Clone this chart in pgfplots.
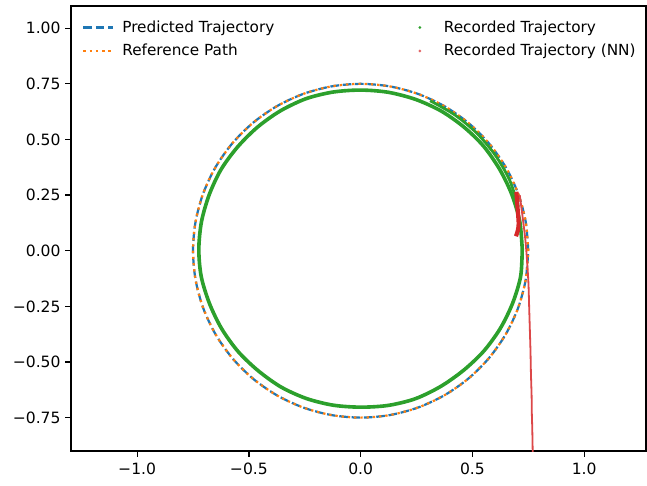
\documentclass[border=0pt]{standalone}
\usepackage{fontspec}
\setmainfont{DejaVu Sans}
\usepackage{pgfplots}
\pgfplotsset{compat=1.18}
\definecolor{c0}{HTML}{1F77B4}
\definecolor{c1}{HTML}{FF7F0E}
\definecolor{c2}{HTML}{2CA02C}
\definecolor{c3}{HTML}{D62728}

% reference circle, r = 0.75
\pgfplotstableread{
x y
0.75 0
0.7386 0.1302
0.7048 0.2565
0.6495 0.375
0.5745 0.4821
0.4821 0.5745
0.375 0.6495
0.2565 0.7048
0.1302 0.7386
0 0.75
-0.1302 0.7386
-0.2565 0.7048
-0.375 0.6495
-0.4821 0.5745
-0.5745 0.4821
-0.6495 0.375
-0.7048 0.2565
-0.7386 0.1302
-0.75 0
-0.7386 -0.1302
-0.7048 -0.2565
-0.6495 -0.375
-0.5745 -0.4821
-0.4821 -0.5745
-0.375 -0.6495
-0.2565 -0.7048
-0.1302 -0.7386
0 -0.75
0.1302 -0.7386
0.2565 -0.7048
0.375 -0.6495
0.4821 -0.5745
0.5745 -0.4821
0.6495 -0.375
0.7048 -0.2565
0.7386 -0.1302
0.75 0
}\refpath

% recorded trajectory
\pgfplotstableread{
x y
0.723 0.008
0.712 0.132
0.676 0.254
0.622 0.366
0.550 0.470
0.462 0.556
0.360 0.628
0.246 0.680
0.124 0.712
0.000 0.722
-0.124 0.713
-0.245 0.683
-0.360 0.628
-0.462 0.555
-0.550 0.467
-0.624 0.366
-0.677 0.253
-0.712 0.131
-0.724 0.006
-0.713 -0.117
-0.676 -0.238
-0.622 -0.350
-0.549 -0.452
-0.460 -0.538
-0.357 -0.612
-0.243 -0.664
-0.123 -0.694
0.000 -0.703
0.124 -0.695
0.245 -0.665
0.358 -0.610
0.461 -0.537
0.551 -0.451
0.625 -0.349
0.680 -0.236
0.716 -0.115
0.723 0.008
}\recorded

% second pass, upper right
\pgfplotstableread{
x y
0.706 0.198
0.666 0.319
0.602 0.430
0.520 0.528
0.422 0.610
0.311 0.674
}\recordedb

% recorded trajectory (NN)
\pgfplotstableread{
x y
0.697 0.265
0.700 0.220
0.704 0.170
0.707 0.120
0.703 0.090
0.695 0.065
}\nnhook
\pgfplotstableread{
x y
0.712 0.250
0.725 0.150
0.737 0.050
0.745 -0.050
0.751 -0.150
0.754 -0.250
0.757 -0.350
0.760 -0.450
0.762 -0.550
0.765 -0.650
0.766 -0.730
0.768 -0.800
0.770 -0.910
}\nntail

\begin{document}
\begin{tikzpicture}
\begin{axis}[
    scale only axis,
    width=414pt, height=320.4pt,
    xmin=-1.296, xmax=1.277,
    ymin=-0.9, ymax=1.1,
    axis line style={line width=0.9pt},
    tick align=outside,
    xtick pos=left, ytick pos=left,
    major tick length=4pt,
    tick style={line width=0.9pt, black},
    xtick={-1,-0.5,0,0.5,1},
    xticklabels={−1.0,−0.5,0.0,0.5,1.0},
    ytick={-0.75,-0.5,-0.25,0,0.25,0.5,0.75,1},
    yticklabels={−0.75,−0.50,−0.25,0.00,0.25,0.50,0.75,1.00},
    tick label style={font=\fontsize{11.2}{13.5}\selectfont},
    xticklabel style={yshift=-1pt},
    legend columns=2,
    legend cell align=left,
    legend style={
        at={(0.012,0.98)}, anchor=north west,
        draw=none, fill=none,
        font=\fontsize{11}{13}\selectfont,
        row sep=3pt,
        /tikz/every even column/.append style={column sep=92pt},
    },
]
\addplot[c0, line width=1.6pt, dash pattern=on 6.2pt off 2.7pt, smooth, forget plot] table {\refpath};
\addplot[c1, line width=1.6pt, dash pattern=on 1.7pt off 2.8pt, smooth, forget plot] table {\refpath};
\addplot[c2, line width=2.6pt, smooth, forget plot] table {\recorded};
\addplot[c2, line width=2pt, smooth, forget plot] table {\recordedb};
\addplot[c3, line width=3pt, smooth, forget plot] table {\nnhook};
\addplot[c3!85, line width=1.3pt, smooth, forget plot] table {\nntail};

\addlegendimage{legend image code/.code={\path[draw=none, fill=none] (0pt,0pt) -- (26pt,0pt); \draw[c0, line width=1.6pt, dash pattern=on 6.2pt off 2.7pt] (0pt,0pt) -- (21.6pt,0pt);}}
\addlegendentry{Predicted Trajectory}
\addlegendimage{legend image code/.code={\path[draw=none, fill=none] (0pt,0pt) -- (26pt,0pt); \fill[c2, draw=none] (10.8pt,0pt) circle (1.1pt);}}
\addlegendentry{Recorded Trajectory}
\addlegendimage{legend image code/.code={\path[draw=none, fill=none] (0pt,0pt) -- (26pt,0pt); \draw[c1, line width=1.6pt, dash pattern=on 1.7pt off 2.8pt] (0pt,0pt) -- (21.6pt,0pt);}}
\addlegendentry{Reference Path}
\addlegendimage{legend image code/.code={\path[draw=none, fill=none] (0pt,0pt) -- (26pt,0pt); \fill[c3!70, draw=none] (10.8pt,0pt) circle (1.1pt);}}
\addlegendentry{Recorded Trajectory (NN)}
\end{axis}
\path ([shift={(-51.1pt,-24.5pt)}]current axis.south west) ([shift={(0.7pt,4.3pt)}]current axis.north east);
\end{tikzpicture}
\end{document}
